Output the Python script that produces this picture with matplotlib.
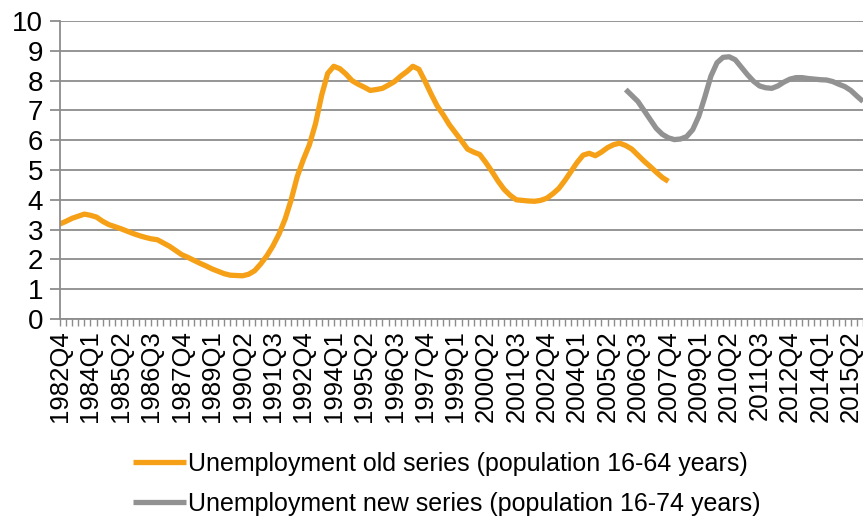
import numpy as np
import matplotlib.pyplot as plt

plt.rcParams['font.family'] = ['Liberation Sans', 'DejaVu Sans']

# quarterly axis 1982Q4 .. 2015Q4
quarters = [f"{y}Q{q}" for y in range(1982, 2016) for q in range(1, 5)][3:]

# unemployment, old series (16-64 years), 1982Q4 - 2007Q4
old_series = [3.19, 3.28, 3.38, 3.45, 3.52, 3.48, 3.42, 3.28, 3.17, 3.10,
              3.03, 2.95, 2.87, 2.80, 2.74, 2.69, 2.66, 2.55, 2.44, 2.30,
              2.16, 2.07, 1.97, 1.87, 1.78, 1.68, 1.60, 1.52, 1.47, 1.46,
              1.45, 1.50, 1.62, 1.85, 2.12, 2.45, 2.85, 3.35, 4.00, 4.78,
              5.35, 5.85, 6.55, 7.50, 8.24, 8.48, 8.40, 8.22, 8.00, 7.88,
              7.78, 7.67, 7.70, 7.74, 7.85, 7.97, 8.15, 8.30, 8.48, 8.38,
              7.98, 7.55, 7.15, 6.85, 6.52, 6.25, 5.98, 5.70, 5.60, 5.52,
              5.25, 4.95, 4.63, 4.35, 4.15, 4.00, 3.98, 3.96, 3.95, 3.98,
              4.05, 4.20, 4.38, 4.65, 4.95, 5.25, 5.50, 5.56, 5.48, 5.60,
              5.75, 5.85, 5.90, 5.82, 5.70, 5.50, 5.30, 5.12, 4.93, 4.75,
              4.62]

# unemployment, new series (16-74 years), 2006Q1 - 2015Q4
new_start = "2006Q1"
new_series = [7.70, 7.50, 7.30, 7.00, 6.70, 6.40, 6.20, 6.08, 6.02, 6.04,
              6.12, 6.35, 6.80, 7.45, 8.15, 8.60, 8.78, 8.80, 8.70, 8.45,
              8.20, 7.98, 7.82, 7.76, 7.74, 7.82, 7.95, 8.05, 8.10, 8.10,
              8.07, 8.05, 8.03, 8.02, 7.97, 7.88, 7.80, 7.67, 7.48, 7.30]

x_old = np.arange(len(old_series))
i0 = quarters.index(new_start)
x_new = np.arange(i0, i0 + len(new_series))

orange = '#F5A016'
grey = '#929292'
gridc = '#8C8C8C'

fig = plt.figure(figsize=(8.63, 5.18), dpi=100)
ax = fig.add_axes([60 / 863, 1 - 319 / 518, 1 - 60 / 863, (319 - 21) / 518])

ax.plot(x_old, old_series, color=orange, lw=3.8, solid_capstyle='butt',
        label='Unemployment old series (population 16-64 years)')
ax.plot(x_new, new_series, color=grey, lw=3.8, solid_capstyle='butt',
        label='Unemployment new series (population 16-74 years)')

ax.set_ylim(0, 10)
ax.set_yticks(range(0, 11))
ax.set_xlim(0, 131.6)
ax.set_xticks(range(0, len(quarters), 5))
ax.set_xticklabels(quarters[::5], rotation=90)
ax.set_xticks(range(len(quarters)), minor=True)

ax.grid(axis='y', color=gridc, lw=1.3)
ax.set_axisbelow(True)
for s in ['top', 'right']:
    ax.spines[s].set_visible(False)
for s in ['left', 'bottom']:
    ax.spines[s].set_color(gridc)
    ax.spines[s].set_linewidth(1.3)

ax.tick_params(axis='y', length=7, width=1.3, color=gridc, labelsize=20, pad=5)
ax.tick_params(axis='x', which='both', length=5, width=1, color=gridc,
               labelsize=18.5, pad=3)

ax.legend(loc='upper left', bbox_to_anchor=(133 / 863, 1 - 452 / 518),
          bbox_transform=fig.transFigure, frameon=False, fontsize=18,
          handlelength=2.1, handletextpad=0.08, labelspacing=0.64,
          borderaxespad=0, borderpad=0)

fig.savefig('out.png', dpi=100)
